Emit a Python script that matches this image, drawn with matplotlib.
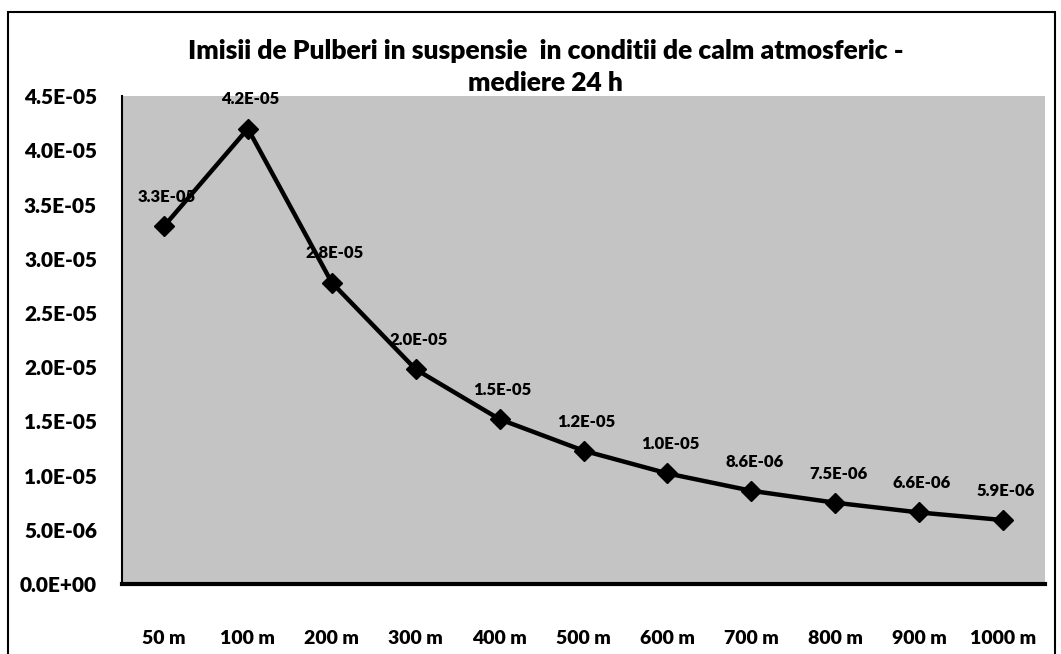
import matplotlib.pyplot as plt
import matplotlib.patches as mpatches
import numpy as np

# date
distante = ['50 m', '100 m', '200 m', '300 m', '400 m', '500 m', '600 m',
            '700 m', '800 m', '900 m', '1000 m']
imisii = [3.3e-05, 4.2e-05, 2.78e-05, 1.98e-05, 1.52e-05, 1.23e-05, 1.02e-05,
          8.6e-06, 7.5e-06, 6.6e-06, 5.9e-06]
etichete = ['3.3E-05', '4.2E-05', '2.8E-05', '2.0E-05', '1.5E-05', '1.2E-05',
            '1.0E-05', '8.6E-06', '7.5E-06', '6.6E-06', '5.9E-06']
y_ticks = np.arange(0, 4.51e-05, 5e-06)
y_labels = ['0.0E+00', '5.0E-06', '1.0E-05', '1.5E-05', '2.0E-05', '2.5E-05',
            '3.0E-05', '3.5E-05', '4.0E-05', '4.5E-05']

plt.rcParams['font.family'] = ['Lato', 'DejaVu Sans']

fig = plt.figure(figsize=(10.61, 6.54), dpi=100)
ax = fig.add_axes([0.115, 0.107, 0.870, 0.746])

x_pos = np.arange(len(distante))
ax.plot(x_pos, imisii, color='black', linewidth=3.2, marker='D', markersize=10)

for x, y, t in zip(x_pos, imisii, etichete):
    ax.annotate(t, (x, y), xytext=(2, 21), textcoords='offset points',
                ha='center', va='center', fontsize=12, fontweight='heavy')

ax.set_facecolor('#c4c4c4')
ax.set_xlim(-0.5, len(distante) - 0.5)
ax.set_ylim(0, 4.5e-05)
ax.set_xticks(x_pos)
ax.set_xticklabels(distante, fontsize=14, fontweight='heavy')
ax.set_yticks(y_ticks)
ax.set_yticklabels(y_labels, fontsize=15, fontweight='heavy')
ax.tick_params(axis='x', length=0, pad=33)
ax.tick_params(axis='y', length=0, pad=18)

ax.spines['top'].set_visible(False)
ax.spines['right'].set_visible(False)
ax.spines['left'].set_linewidth(1.5)
ax.spines['bottom'].set_linewidth(3)

# titlu
fig.text(0.514, 0.922, 'Imisii de Pulberi in suspensie  in conditii de calm atmosferic -',
         ha='center', va='center', fontsize=19, fontweight='heavy')
fig.text(0.514, 0.873, 'mediere 24 h', ha='center', va='center',
         fontsize=19, fontweight='heavy')

# chenar
fig.patches.append(mpatches.Rectangle((0.008, -0.05), 0.986, 1.032,
                                      transform=fig.transFigure, fill=False,
                                      edgecolor='black', linewidth=1.5))

plt.savefig('out.png', dpi=100)
